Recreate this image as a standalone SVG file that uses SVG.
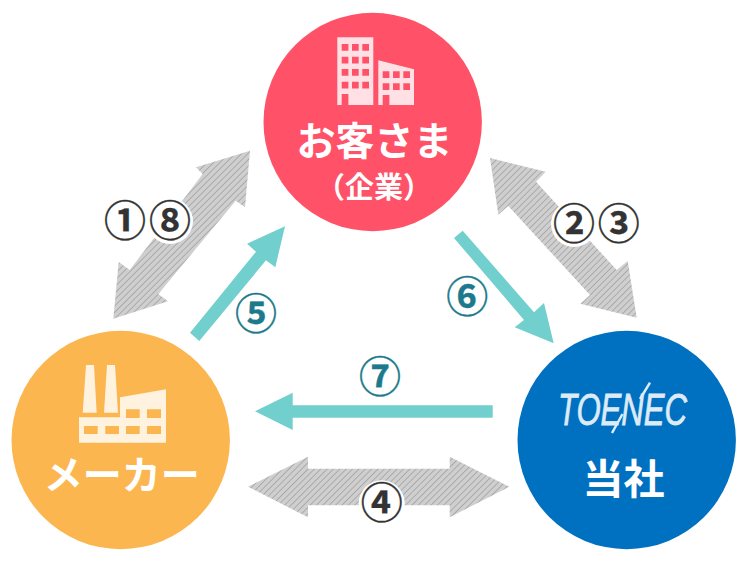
<svg xmlns="http://www.w3.org/2000/svg" width="742" height="568" viewBox="0 0 742 568">
<style>
text{font-family:"Noto Sans CJK JP","Noto Sans",sans-serif;font-weight:700;text-anchor:middle}
.name{fill:#fff;font-size:39px}
.sub{fill:#fff;font-size:29px}
.num{font-size:42px;fill:#333;stroke:#333;stroke-width:.3}
.teal{fill:#1c7a8c;stroke:#1c7a8c}
.flow{fill:#71cfcd}
.both{fill:url(#hatch)}
.halo{fill:#fff}
.ico{fill:#fff;fill-opacity:.82}
.logo{fill:#dcebf6;stroke:#dcebf6;stroke-width:.8}
</style>
<defs>
<pattern id="hatch" width="4.5" height="4.5" patternUnits="userSpaceOnUse" patternTransform="rotate(45)">
<rect width="4.5" height="4.5" fill="#cfcfcf"/>
<rect width="0.8" height="4.5" fill="#a2a2a2"/>
</pattern>
</defs>
<rect width="742" height="568" fill="#fff"/>
<g id="connectors">
<polygon id="c18" class="both" points="250,150.7 196,167.3 202.7,174 129.7,270 118.7,262 113.3,318.7 168,301.3 158.3,294 235.7,200.7 245,207.3"/>
<polygon id="c23" class="both" points="490,158 545.7,171.7 536,181.7 616.7,270 627.7,261 636.7,317.7 580.3,303.7 590,295 508.3,206 498.3,214.7"/>
<polygon id="c4" class="both" points="248,486.7 308,456.7 308,468.7 449.7,468.7 449.7,456.7 509.3,486.7 449.7,517.3 449.7,505.3 308,505.3 308,517.3"/>
<polygon id="c5" class="flow" points="190,332.7 256,251.7 247,243.7 285,226.3 275.3,267.3 266,260.3 199.3,341"/>
<polygon id="c6" class="flow" points="454,238 462.7,230.7 534,312.3 544,303 553.7,343.3 514.7,327.3 524,320"/>
<polygon id="c7" class="flow" points="255,411.3 292.7,392.7 292.7,405.3 492.7,405.3 492.7,417.7 292.7,417.7 292.7,430"/>
</g>
<g id="node-customer">
<circle cx="372.7" cy="122" r="109.2" fill="#ff5268"/>
<path class="ico" fill-rule="evenodd" d="M337.3 37.3H373.3V105H337.3ZM341.7 44v6.7h6.7V44ZM352 44v6.7h6.7V44ZM362.3 44v6.7H369V44ZM341.7 56.7v6.7h6.7v-6.7ZM352 56.7v6.7h6.7v-6.7ZM362.3 56.7v6.7H369v-6.7ZM341.7 69v6.7h6.7V69ZM352 69v6.7h6.7V69ZM362.3 69v6.7H369V69ZM341.7 81.7v6.7h6.7v-6.7ZM352 81.7v6.7h6.7v-6.7ZM362.3 81.7v6.7H369v-6.7ZM341.7 94v11h6.7V94Z"/>
<path class="ico" fill-rule="evenodd" d="M378.3 60.3L414 69.3V105H378.3ZM382.7 71.3V78h6.7v-6.7ZM393 71.3V78h6.7v-6.7ZM403.3 71.3V78H410v-6.7ZM382.7 83.3V90h6.7v-6.7ZM393 83.3V90h6.7v-6.7ZM403.3 83.3V90H410v-6.7ZM382.7 95v10h6.7V95Z"/>
<text class="name" x="374.500" y="155">お客さま</text>
<text class="sub" x="374" y="198">（企業）</text>
</g>
<g id="node-maker">
<circle cx="120.7" cy="440" r="109.2" fill="#fbb64f"/>
<path class="ico" d="M86 365H94L96.7 412.7H82.7ZM107 365H115L118 412.7H104Z"/>
<path class="ico" fill-rule="evenodd" d="M79 417.3H120V397.3L166 389.3V442.7H79ZM84 426v8h13.7v-8ZM105.300 426v8H119v-8ZM126 426v8h13.700v-8ZM147 426v8h14v-8ZM126 409.300V418h13.700v-8.700ZM147 409.300V418h14v-8.700Z"/>
<text class="name" x="121.700" y="489">メーカー</text>
</g>
<g id="node-toenec">
<circle cx="626.7" cy="440" r="109.2" fill="#0071c1"/>
<text class="logo" x="622.500" y="425" font-size="44" font-style="italic" style="font-family:'Liberation Sans',sans-serif;font-weight:400" textLength="129" lengthAdjust="spacingAndGlyphs">TOENEC</text>
<path d="M612 433L622.500 414M640 399L650 382.700" stroke="#dcebf6" stroke-width="2.500" fill="none"/>
<text class="name" x="623.500" y="494" style="font-size:41px">当社</text>
</g>
<g id="labels">
<circle class="halo" cx="170" cy="221" r="23"/>
<circle class="halo" cx="574" cy="224" r="23"/>
<circle class="halo" cx="381.700" cy="503.300" r="23"/>
<text class="num" x="125" y="236">①</text>
<text class="num" x="170" y="236">⑧</text>
<text class="num" x="574" y="239">②</text>
<text class="num" x="618.700" y="239">③</text>
<text class="num" x="381.700" y="518">④</text>
<text class="num teal" x="256" y="329">⑤</text>
<text class="num teal" x="467.300" y="312">⑥</text>
<text class="num teal" x="380" y="392">⑦</text>
</g>
</svg>
